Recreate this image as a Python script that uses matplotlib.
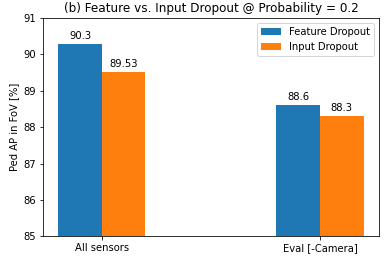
import numpy as np
import matplotlib.pyplot as plt

categories = ["All sensors", "Eval [-Camera]"]
feature_dropout = [90.3, 88.6]
input_dropout = [89.53, 88.3]

x = np.arange(len(categories))
width = 0.2

fig, ax = plt.subplots(figsize=(389 / 72, 259 / 72), dpi=72)
fig.subplots_adjust(left=0.1105, right=0.974, top=0.93, bottom=0.088)

b1 = ax.bar(x - width / 2, feature_dropout, width, label="Feature Dropout", color="#1f77b4")
b2 = ax.bar(x + width / 2, input_dropout, width, label="Input Dropout", color="#ff7f0e")
ax.bar_label(b1, padding=3)
ax.bar_label(b2, padding=3)

ax.set_ylim(85, 91)
ax.set_ylabel("Ped AP in FoV [%]")
ax.set_title("(b) Feature vs. Input Dropout @ Probability = 0.2")
ax.set_xticks(x)
ax.set_xticklabels(categories)
ax.legend(loc="upper right")

fig.savefig("out.png", dpi=72)
